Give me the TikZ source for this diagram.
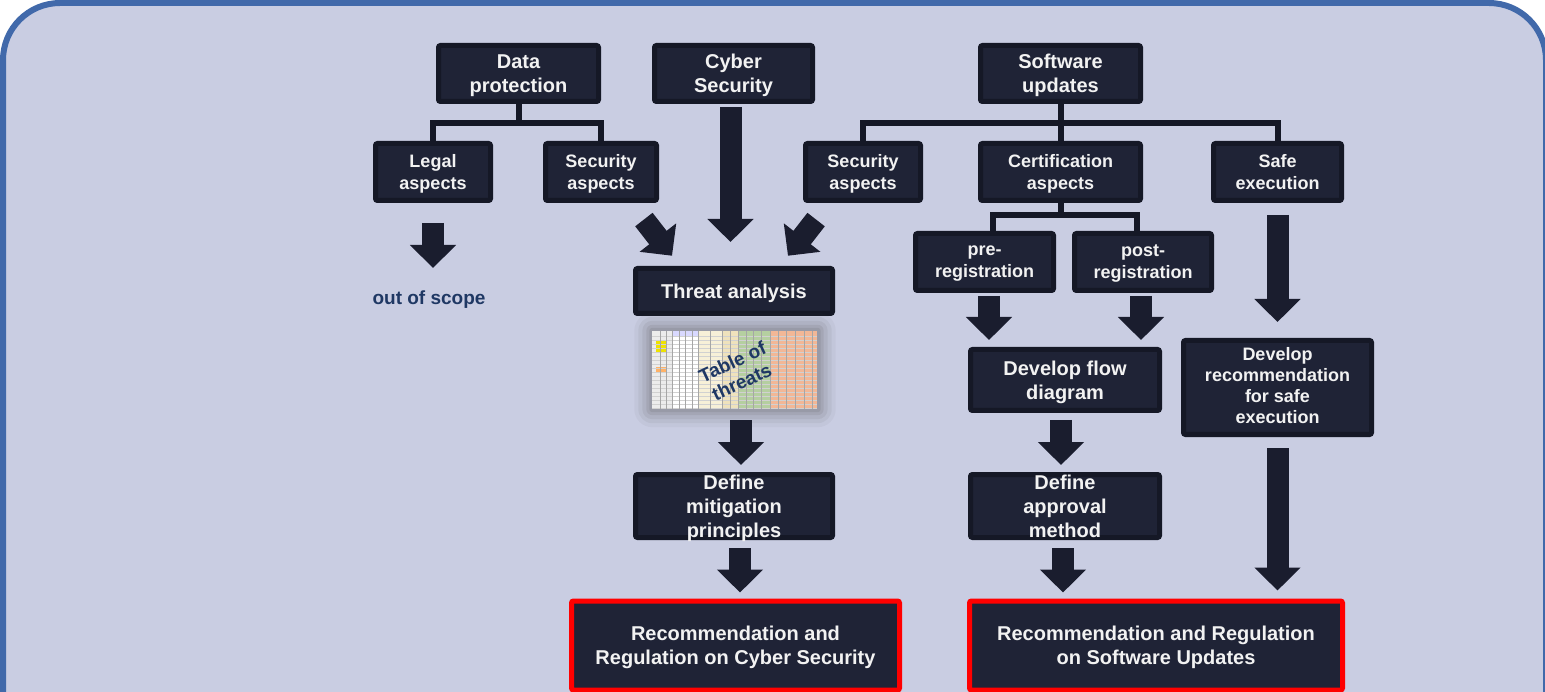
\documentclass[tikz,border=0pt]{standalone}
\usepackage{fontspec}
\setmainfont{Liberation Sans}
\usepackage{tikz}
\usetikzlibrary{positioning,arrows.meta,calc}
\definecolor{bgfill}{HTML}{C9CDE2}
\definecolor{framec}{HTML}{4169AA}
\definecolor{boxfill}{HTML}{1F2336}
\definecolor{boxline}{HTML}{151826}
\definecolor{arrowc}{HTML}{1A1D2E}
\definecolor{labelc}{HTML}{1F3864}
\definecolor{tgreen}{HTML}{B5CFA0}
\definecolor{torange}{HTML}{F2B796}
\definecolor{tcream}{HTML}{F7F0D8}
\definecolor{tbeige}{HTML}{EFE2BC}

\begin{document}
\begin{tikzpicture}[x=1pt,y=-1pt,
  every node/.style={align=center},
  box/.style={rectangle,draw=boxline,fill=boxfill,line width=5pt,rounded corners=2pt,
              outer sep=2.5pt,inner sep=0pt,text depth=0pt,text=white!95!black,
              font=\fontsize{20}{24}\selectfont\bfseries},
  sbox/.style={box,font=\fontsize{18}{22}\selectfont\bfseries},
  goal/.style={box,draw=red},
  link/.style={draw=boxline,line width=6pt},
  barrow/.style={draw=arrowc,line width=22pt,-{Triangle[width=45pt,length=23pt]}},
  note/.style={font=\fontsize{19}{22}\selectfont\bfseries,text=labelc,inner sep=0pt},
]
\useasboundingbox (0,0) rectangle (1545,692);
\fill[white] (0,0) rectangle (1545,692);
\draw[line width=6pt,draw=framec,fill=bgfill,rounded corners=57pt] (3,3) rectangle (1546,800);

% top row
\node[box,minimum width=160pt,minimum height=56pt] (dp) at (518.5,73.5) {Data\\protection};
\node[box,minimum width=158pt,minimum height=56pt] (cyber) at (733.5,73.5) {Cyber\\Security};
\node[box,minimum width=160pt,minimum height=56pt] (swu) at (1060.5,73.5) {Software\\updates};

% aspects
\node[sbox,minimum width=115pt,minimum height=57pt] (legal) at (433,172) {Legal\\aspects};
\node[sbox,minimum width=111pt,minimum height=57pt] (secdp) at (601,172) {Security\\aspects};
\node[sbox,minimum width=115pt,minimum height=57pt] (secsu) at (863,172) {Security\\aspects};
\node[sbox,minimum width=160pt,minimum height=57pt] (cert) at (1060.5,172) {Certification\\aspects};
\node[sbox,minimum width=128pt,minimum height=57pt] (safe) at (1277.5,172) {Safe\\execution};
\node[sbox,minimum width=138pt,minimum height=57pt] (prereg) at (984.5,262) {pre-\\registration};
\node[sbox,minimum width=137pt,minimum height=57pt] (postreg) at (1143,262) {post-\\registration};

\node[note] (oos) at (429,300) {out of scope};

% work steps
\node[box,minimum width=197pt,minimum height=45pt] (threat) at (734,291) {Threat analysis};
\node[box,minimum width=197pt,minimum height=63pt] (mitig) at (734,506) {Define\\mitigation\\principles};
\node[box,minimum width=189pt,minimum height=61pt] (flow) at (1065,380) {Develop flow\\diagram};
\node[box,minimum width=189pt,minimum height=63pt] (approval) at (1065,506) {Define\\approval\\method};
\node[sbox,minimum width=188pt,minimum height=94pt,text depth=3.8pt,font=\fontsize{18}{21}\selectfont\bfseries] (devrec) at (1277.5,387.5) {Develop\\recommendation\\for safe\\execution};

% results
\node[goal,minimum width=328pt,minimum height=89pt] (reccs) at (735.5,645.5) {Recommendation and\\Regulation on Cyber Security};
\node[goal,minimum width=373pt,minimum height=89pt] (recsu) at (1156,645.5) {Recommendation and Regulation\\on Software Updates};

% table of threats (sketch of the spreadsheet)
\node[minimum width=165pt,minimum height=78pt,inner sep=0pt] (tbl) at (735,370) {};
\foreach \s/\o in {18/0.05,14/0.07,10/0.09,6/0.11,3/0.13}
  \fill[black!70,opacity=\o,rounded corners=\s pt] ([shift={(-\s,-\s)}]tbl.north west) rectangle ([shift={(\s,\s)}]tbl.south east);
\begin{scope}[shift={(tbl.north west)}]
  \fill[white] (0,0) rectangle (165,78);
  \fill[gray!15] (0,0) rectangle (20,78);
  \fill[yellow!85!olive] (4,10) rectangle (14,22);
  \fill[orange!60] (4,36) rectangle (14,41);
  \fill[blue!15] (20,0) rectangle (46,5);
  \fill[tcream] (46,0) rectangle (70,78);
  \fill[tbeige] (70,0) rectangle (86,78);
  \fill[tgreen] (86,0) rectangle (118,78);
  \fill[torange] (118,0) rectangle (165,78);
  \foreach \gy in {5,9,...,77}
    \draw[black!18,line width=0.3pt] (0,\gy) -- (165,\gy);
  \foreach \gx in {8,14,20,27,33,40,46,58,70,78,86,94,101,109,118,126,134,143,152,160}
    \draw[black!35,line width=0.4pt] (\gx,0) -- (\gx,78);
\end{scope}
\node[note,rotate=25] (tbllbl) at ([xshift=2pt,yshift=-2pt]tbl.center) {Table of\\threats};

% tree links
\draw[link] (dp.south) -- ++(0,19) coordinate (dpj) -| (legal.north);
\draw[link] (dpj) -| (secdp.north);
\coordinate (swj) at ($(swu.south)+(0,19)$);
\draw[link] (swu.south) -- (cert.north);
\draw[link] (secsu.north) |- (swj) -| (safe.north);
\coordinate (cj) at ($(cert.south)+(0,12)$);
\draw[link] (cert.south) -- (cj);
\draw[link] ([xshift=8.5pt]prereg.north) |- (cj) -| ([xshift=-6pt]postreg.north);

% block arrows
\draw[barrow,shorten <=20pt,shorten >=23pt] (legal.south) -- (legal.south |- oos.north);
\draw[barrow,shorten <=3pt,shorten >=24pt] ([xshift=-3pt]cyber.south) -- ([xshift=-3pt]cyber.south |- threat.north);
\draw[barrow,shorten <=21pt,shorten >=13pt] ([xshift=-28pt]secdp.south east) -- ([xshift=47pt]threat.north west);
\draw[barrow,shorten <=21pt,shorten >=13pt] ([xshift=26pt]secsu.south west) -- ([xshift=-55pt]threat.north east);
\draw[barrow,shorten <=3pt,shorten >=7pt] ([xshift=4.5pt]prereg.south) -- ([xshift=4.5pt]prereg.south |- flow.north);
\draw[barrow,shorten <=3pt,shorten >=7pt] ([xshift=-2pt]postreg.south) -- ([xshift=-2pt]postreg.south |- flow.north);
\draw[barrow,shorten <=12pt,shorten >=16pt] (safe.south) -- (safe.south |- devrec.north);
\draw[barrow,shorten <=11pt,shorten >=8pt] (devrec.south) -- (devrec.south |- recsu.north);
\draw[barrow,shorten <=11pt,shorten >=7pt] ([xshift=6pt]tbl.south) -- ([xshift=6pt]tbl.south |- mitig.north);
\draw[barrow,shorten <=7pt,shorten >=7pt] ([xshift=-4pt]flow.south) -- ([xshift=-4pt]flow.south |- approval.north);
\draw[barrow,shorten <=8pt,shorten >=6pt] ([xshift=6pt]mitig.south) -- ([xshift=6pt]mitig.south |- reccs.north);
\draw[barrow,shorten <=8pt,shorten >=6pt] ([xshift=-2pt]approval.south) -- ([xshift=-2pt]approval.south |- recsu.north);
\end{tikzpicture}
\end{document}
